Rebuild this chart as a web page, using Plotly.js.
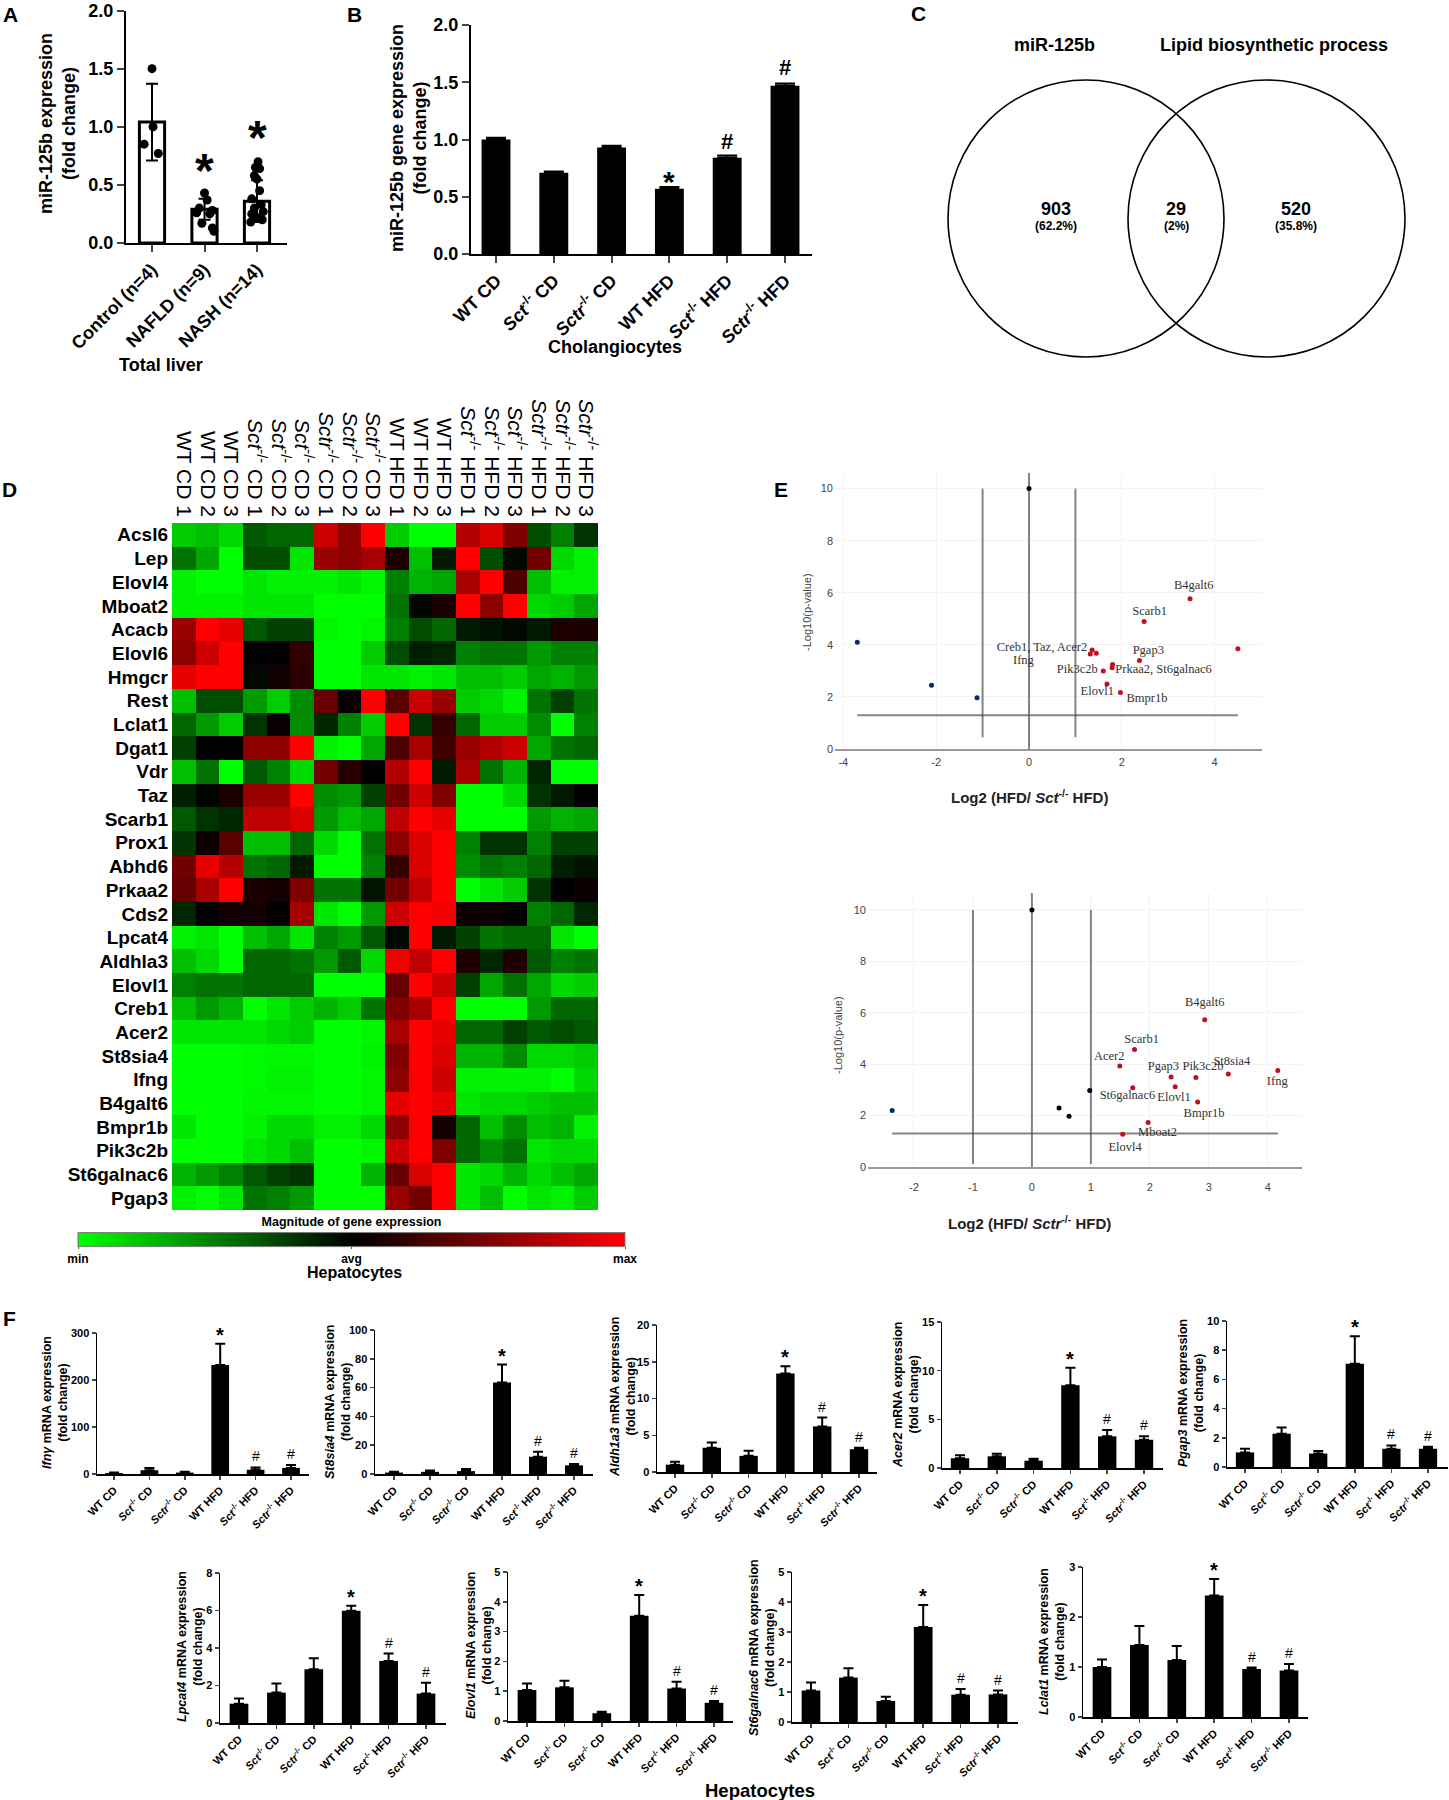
<!DOCTYPE html>
<html><head><meta charset="utf-8">
<script src="https://cdn.plot.ly/plotly-3.0.1.min.js"></script>
<style>html,body{margin:0;padding:0;background:#fff}</style></head>
<body><div id="chart" style="width:1449px;height:1800px"></div>
<script>
// ---------- DATA ----------
const liverGroups = ['Control (n=4)','NAFLD (n=9)','NASH (n=14)'];
const liverMeans = [1.04,0.29,0.36];
const liverErrors = [0.33,0.09,0.18];
const controlX = [0,0.02,-0.15,0.12];
const controlY = [1.5,1.0,0.85,0.77];
const naflX = [1.0,1.05,0.9,1.15,0.85,1.1,0.95,1.15,1.18];
const naflY = [0.43,0.37,0.30,0.28,0.26,0.25,0.17,0.13,0.10];
const nashX = [2.02,1.97,2.05,1.95,2.0,2.05,1.9,2.08,1.95,2.12,1.9,2.0,2.1,1.88];
const nashY = [0.70,0.65,0.64,0.58,0.55,0.45,0.38,0.33,0.30,0.27,0.25,0.22,0.20,0.18];

const groups = ['WT CD','<i>Sct</i><sup>-/-</sup> CD','<i>Sctr</i><sup>-/-</sup> CD','WT HFD','<i>Sct</i><sup>-/-</sup> HFD','<i>Sctr</i><sup>-/-</sup> HFD'];
const cholMeans = [1.0,0.71,0.93,0.57,0.84,1.47];
const cholErrors = [0.015,0.01,0.015,0.015,0.02,0.02];

const genes = ['Acsl6','Lep','Elovl4','Mboat2','Acacb','Elovl6','Hmgcr','Rest','Lclat1','Dgat1','Vdr','Taz','Scarb1','Prox1','Abhd6','Prkaa2','Cds2','Lpcat4','Aldhla3','Elovl1','Creb1','Acer2','St8sia4','Ifng','B4galt6','Bmpr1b','Pik3c2b','St6galnac6','Pgap3'];
const samples = ['WT CD 1','WT CD 2','WT CD 3','<i>Sct</i><sup>-/-</sup> CD 1','<i>Sct</i><sup>-/-</sup> CD 2','<i>Sct</i><sup>-/-</sup> CD 3','<i>Sctr</i><sup>-/-</sup> CD 1','<i>Sctr</i><sup>-/-</sup> CD 2','<i>Sctr</i><sup>-/-</sup> CD 3','WT HFD 1','WT HFD 2','WT HFD 3','<i>Sct</i><sup>-/-</sup> HFD 1','<i>Sct</i><sup>-/-</sup> HFD 2','<i>Sct</i><sup>-/-</sup> HFD 3','<i>Sctr</i><sup>-/-</sup> HFD 1','<i>Sctr</i><sup>-/-</sup> HFD 2','<i>Sctr</i><sup>-/-</sup> HFD 3'];
const expression = [
[-0.8,-0.75,-0.85,-0.35,-0.4,-0.4,0.8,0.55,1,-0.8,-1,-1,0.7,0.85,0.5,-0.3,-0.5,-0.2],
[-0.45,-0.65,-1,-0.3,-0.3,-0.9,0.6,0.55,0.65,0.12,-0.75,-0.1,1,-0.3,-0.03,0.45,-0.85,-0.95],
[-0.95,-1,-1,-0.9,-0.95,-0.95,-0.95,-0.9,-0.97,-0.5,-0.7,-0.65,0.65,1,0.3,-0.75,-0.95,-0.95],
[-0.95,-0.95,-0.95,-0.9,-0.9,-0.9,-1,-1,-1,-0.45,-0.02,0.1,1,0.55,1,-0.85,-0.8,-0.65],
[0.6,1,0.9,-0.35,-0.25,-0.25,-0.97,-1,-0.97,-0.5,-0.3,-0.4,-0.1,-0.07,-0.03,-0.1,0.12,0.1],
[0.55,0.8,1,0,0,0.2,-1,-1,-0.8,-0.3,-0.12,-0.15,-0.5,-0.45,-0.45,-0.6,-0.5,-0.5],
[0.9,1,1,-0.03,0.07,0.17,-1,-1,-0.9,-0.9,-0.95,-0.9,-0.75,-0.75,-0.8,-0.65,-0.7,-0.6],
[-0.75,-0.3,-0.3,-0.6,-0.8,-0.55,0.4,0.03,1,0.35,0.8,0.6,-0.8,-0.85,-0.95,-0.45,-0.25,-0.45],
[-0.4,-0.6,-0.8,-0.2,0.03,-0.55,-0.15,-0.5,-0.8,1,-0.2,0.2,-0.4,-0.8,-0.8,-0.55,-1,-0.5],
[-0.25,0,0,0.55,0.55,1,-0.95,-1,-0.65,0.3,0.65,0.25,0.6,0.7,0.8,-0.65,-0.45,-0.4],
[-0.75,-0.45,-1,-0.35,-0.5,-0.85,0.45,0.15,0,0.7,1,-0.1,0.65,-0.45,-0.7,-0.15,-1,-1],
[-0.12,-0.02,0.1,0.6,0.6,1,-0.55,-0.6,-0.25,0.45,0.8,0.5,-1,-1,-0.85,-0.2,-0.1,0],
[-0.35,-0.2,-0.15,0.75,0.75,0.85,-0.6,-0.75,-0.65,0.75,1,0.9,-1,-1,-1,-0.6,-0.7,-0.65],
[-0.2,0.05,0.35,-0.75,-0.75,-0.4,-0.85,-1,-0.45,0.55,0.85,1,-0.5,-0.2,-0.2,-0.5,-0.25,-0.25],
[0.45,0.9,0.7,-0.45,-0.4,-0.1,-1,-1,-0.5,0.2,0.85,1,-0.55,-0.45,-0.5,-0.4,-0.12,-0.07],
[0.4,0.65,1,0.1,0.08,0.5,-0.45,-0.45,-0.08,0.45,0.75,1,-1,-0.9,-0.8,-0.2,0,0.05],
[-0.15,0,0.08,0.08,0,0.65,-0.9,-1,-0.6,0.8,1,0.95,0.05,0.05,0,-0.5,-0.4,-0.15],
[-0.95,-0.9,-1,-0.75,-0.65,-0.9,-0.5,-0.6,-0.35,-0.03,1,-0.1,-0.25,-0.45,-0.4,-0.4,-0.9,-1],
[-0.75,-0.85,-1,-0.4,-0.4,-0.45,-0.6,-0.35,-0.85,0.95,0.75,1,0.12,-0.15,0.12,-0.35,-0.5,-0.45],
[-0.5,-0.45,-0.45,-0.4,-0.4,-0.4,-1,-1,-1,0.4,1,0.8,-0.25,-0.65,-0.45,-0.65,-0.85,-0.8],
[-0.75,-0.6,-0.7,-1,-0.9,-0.8,-0.7,-0.8,-0.45,0.5,0.65,1,-1,-1,-1,-0.6,-0.4,-0.4],
[-0.9,-0.9,-0.9,-0.9,-0.85,-0.8,-1,-1,-0.97,0.65,1,0.9,-0.4,-0.4,-0.25,-0.35,-0.3,-0.35],
[-1,-1,-1,-0.98,-0.97,-0.97,-1,-1,-0.95,0.5,1,0.85,-0.7,-0.7,-0.55,-0.85,-0.85,-0.8],
[-1,-1,-1,-0.98,-0.95,-0.95,-1,-1,-0.97,0.55,1,0.8,-0.95,-0.95,-0.95,-0.95,-1,-0.85],
[-1,-1,-1,-0.97,-0.97,-0.97,-1,-1,-0.97,0.9,1,0.9,-0.9,-0.85,-0.85,-0.8,-0.75,-0.75],
[-0.9,-1,-1,-0.95,-0.85,-0.85,-0.95,-0.95,-0.85,0.55,1,0.08,-0.4,-0.75,-0.55,-0.75,-0.7,-0.95],
[-1,-1,-1,-0.9,-0.85,-0.75,-1,-1,-0.97,0.8,1,0.5,-0.4,-0.55,-0.45,-0.9,-0.85,-0.85],
[-0.7,-0.6,-0.5,-0.35,-0.25,-0.2,-1,-1,-0.7,0.4,0.85,1,-0.9,-0.85,-0.7,-0.85,-0.75,-0.65],
[-0.95,-1,-0.9,-0.45,-0.5,-0.6,-1,-1,-1,0.6,0.45,1,-0.9,-0.75,-1,-0.9,-0.95,-0.8]
];
const scaleTickVals = [-1,0,1];
const scaleTickText = ['min','avg','max'];

// Volcano, Sct-/-
const sctDownX = [-3.7,-2.1,-1.12];
const sctDownY = [4.1,2.45,1.97];
const sctNsX = [0];
const sctNsY = [10];
const sctUpX = [1.32,1.36,1.45,1.6,1.68,1.8,1.79,1.97,2.38,2.48,3.47,4.5];
const sctUpY = [3.65,3.8,3.68,3.0,2.5,3.25,3.12,2.17,3.4,4.9,5.77,3.85];
const sctLabels = ['B4galt6','Scarb1','Creb1, Taz, Acer2','Ifng','Pgap3','Pik3c2b','Prkaa2, St6galnac6','Elovl1','Bmpr1b'];
const sctLabelX = [3.55,2.6,0.28,-0.12,2.57,1.04,2.9,1.47,2.54];
const sctLabelY = [6.25,5.25,3.88,3.37,3.78,3.05,3.05,2.19,1.92];
// Volcano, Sctr-/-
const sctrDownX = [-2.37];
const sctrDownY = [2.2];
const sctrNsX = [0,0.46,0.63,0.98];
const sctrNsY = [10,2.3,1.97,2.98];
const sctrUpX = [1.49,1.74,1.71,2.36,2.43,2.78,3.33,4.17,2.93,2.81,1.97,1.54];
const sctrUpY = [3.93,4.57,3.08,3.5,3.12,3.48,3.62,3.75,5.73,2.53,1.73,1.27];
const sctrLabels = ['B4galt6','Scarb1','Acer2','Pgap3','Pik3c2b','St8sia4','Ifng','St6galnac6','Elovl1','Bmpr1b','Mboat2','Elovl4'];
const sctrLabelX = [2.93,1.86,1.31,2.23,2.9,3.39,4.16,1.62,2.41,2.92,2.13,1.58];
const sctrLabelY = [6.4,4.96,4.3,3.9,3.88,4.1,3.3,2.75,2.67,2.08,1.33,0.73];

// Venn
const vennTitles = ['miR-125b','Lipid biosynthetic process'];
const vennCounts = ['903','29','520'];
const vennShares = ['(62.2%)','(2%)','(35.8%)'];

// qPCR bars
const ifngMean = [2,8,3,232,9,13],        ifngErr = [1,5,2,45,5,6];
const st8Mean = [1,1.5,2,63.5,12,6],      st8Err = [0.5,1,1.5,12.5,3.5,1];
const aldhMean = [1,3.3,2.2,13.4,6.2,3.1],aldhErr = [0.4,0.7,0.7,1.0,1.2,0.2];
const acerMean = [1,1.2,0.75,8.5,3.25,2.9],acerErr = [0.3,0.27,0.2,1.8,0.65,0.35];
const pgapMean = [1,2.28,0.92,7.08,1.25,1.25],pgapErr = [0.25,0.42,0.18,1.87,0.23,0.13];
const lpcatMean = [1.03,1.62,2.87,5.98,3.3,1.57],lpcatErr = [0.27,0.48,0.58,0.27,0.4,0.57];
const elovlMean = [1.04,1.13,0.26,3.53,1.09,0.61],elovlErr = [0.22,0.22,0.05,0.7,0.23,0.06];
const st6Mean = [1.05,1.48,0.7,3.17,0.91,0.92],st6Err = [0.27,0.31,0.14,0.73,0.19,0.13];
const lclatMean = [1.0,1.44,1.14,2.43,0.96,0.93],lclatErr = [0.15,0.38,0.28,0.33,0.03,0.13];

// ---------- LAYOUT HELPERS ----------
const W = 1449, H = 1800, SANS = 'Liberation Sans, Arial, sans-serif', SERIF = 'Liberation Serif, Times New Roman, serif';
const px = x => x / W, py = y => 1 - y / H;
const traces = [], shapes = [], annotations = [];
const layout = {width:W,height:H,margin:{l:0,r:0,t:0,b:0,autoexpand:false},paper_bgcolor:'#fff',plot_bgcolor:'rgba(0,0,0,0)',showlegend:false,hovermode:false,shapes,annotations};
let axisCount = 0;
function newAxes(L,R,T,B,xOpts,yOpts){
  axisCount++;
  const s = axisCount === 1 ? '' : axisCount;
  layout['xaxis'+s] = Object.assign({domain:[px(L),px(R)],anchor:'y'+s,zeroline:false,showgrid:false},xOpts);
  layout['yaxis'+s] = Object.assign({domain:[py(B),py(T)],anchor:'x'+s,zeroline:false,showgrid:false},yOpts);
  return {x:'x'+s,y:'y'+s};
}
function note(text,x,y,size,opts){
  annotations.push(Object.assign({text,x:px(x),y:py(y),xref:'paper',yref:'paper',xanchor:'center',yanchor:'middle',showarrow:false,
    font:{family:SANS,size,color:'#000'}},opts||{}));
}
const B = t => '<b>'+t+'</b>';
function mark(ax,x,y,text,size,shift,bold){
  annotations.push({text:bold?B(text):text,x,y,xref:ax.x,yref:ax.y,xanchor:'center',yanchor:'middle',yshift:shift,showarrow:false,font:{family:SANS,size,color:'#000'}});
}
function barPanel(g){
  const s = (g.c5-g.c0)/(g.means.length-1);
  const ax = newAxes(g.L,g.R,g.T,g.B,{
    range:[(g.L-g.c0)/s,(g.R-g.c0)/s],tickvals:g.means.map((_,i)=>i),ticktext:g.labels.map(B),tickangle:-45,
    ticks:'outside',ticklen:g.tl,tickwidth:g.lw,showline:true,linewidth:g.lw,linecolor:'#000',tickfont:{family:SANS,size:g.xf,color:'#000'}
  },{
    range:[0,g.max],dtick:g.dtick,tickformat:g.fmt,ticks:'outside',ticklen:g.tl,tickwidth:g.lw,showline:true,linewidth:g.lw,linecolor:'#000',
    tickfont:{family:SANS,size:g.yf,color:'#000',weight:'bold'}
  });
  traces.push({type:'bar',x:g.means.map((_,i)=>i),y:g.means,width:g.bw||0.5,xaxis:ax.x,yaxis:ax.y,
    marker:{color:g.fill||'#000',line:{color:'#000',width:g.ol||0}},
    error_y:{type:'data',symmetric:g.sym||false,array:g.errs,arrayminus:g.sym?g.errs:g.errs.map(()=>0),color:'#000',thickness:g.et||2,width:g.ew||5}});
  return ax;
}

// ---------- PANEL A ----------
const axA = barPanel({L:126,R:287,T:10.5,B:243,c0:152,c5:257,means:liverMeans,errs:liverErrors,labels:liverGroups,max:2,dtick:0.5,fmt:'.1f',tl:7,lw:2,xf:18,yf:18,fill:'#fff',ol:3,bw:0.48,sym:true,ew:6});
[[controlX,controlY],[naflX,naflY],[nashX,nashY]].forEach(p=>traces.push({type:'scatter',mode:'markers',x:p[0],y:p[1],xaxis:axA.x,yaxis:axA.y,marker:{color:'#000',size:9}}));
mark(axA,1,0.66,'*',48,-4,true);
mark(axA,2,0.94,'*',48,-4,true);
note(B('miR-125b expression<br>(fold change)'),57,124,18,{textangle:-90});
note(B('Total liver'),161,365,18);

// ---------- PANEL B ----------
const axB = barPanel({L:471,R:812,T:25,B:254,c0:496,c5:785,means:cholMeans,errs:cholErrors,labels:groups,max:2,dtick:0.5,fmt:'.1f',tl:7,lw:2,xf:18,yf:18,ew:10});
mark(axB,3,0.585,'*',30,6,true);
mark(axB,4,0.86,'#',22,14,true);
mark(axB,5,1.49,'#',22,16,true);
note(B('miR-125b gene expression<br>(fold change)'),408,138,18,{textangle:-90});
note(B('Cholangiocytes'),615,347,18);

// ---------- PANEL C ----------
[[948,1224],[1128,1405]].forEach(c=>shapes.push({type:'circle',xref:'paper',yref:'paper',x0:px(c[0]),x1:px(c[1]),y0:py(80),y1:py(357),line:{color:'#000',width:1.6}}));
note(B(vennTitles[0]),1054,45,18);
note(B(vennTitles[1]),1274,45,18);
[1056,1176,1296].forEach((x,i)=>{note(B(vennCounts[i]),x,209,18);note(B(vennShares[i]),x,226,12);});

// ---------- PANEL D ----------
const axD = newAxes(172,598,523,1210,
  {type:'category',side:'top',tickangle:90,ticks:'',tickmode:'array',tickvals:samples,ticktext:samples,tickfont:{family:SANS,size:21,color:'#000'},ticklabelstandoff:2},
  {type:'category',autorange:'reversed',ticks:'',tickmode:'array',tickvals:genes,ticktext:genes,tickfont:{family:SANS,size:19,color:'#000',weight:'bold'},ticklabelstandoff:3});
traces.push({type:'heatmap',x:samples,y:genes,z:expression,zmin:-1,zmax:1,xaxis:axD.x,yaxis:axD.y,
  colorscale:[[0,'#00ff00'],[0.5,'#000000'],[1,'#ff0000']],
  colorbar:{orientation:'h',x:px(78),xanchor:'left',y:py(1266.5),yanchor:'bottom',len:547,lenmode:'pixels',thickness:14,thicknessmode:'pixels',xpad:0,ypad:0,
    outlinecolor:'#777',outlinewidth:1,ticks:'outside',ticklen:2,tickcolor:'#555',tickvals:scaleTickVals,ticktext:scaleTickText.map(B),
    tickfont:{family:SANS,size:12,color:'#000'},title:{text:B('Magnitude of gene expression'),side:'top',font:{family:SANS,size:12.5,color:'#000'}}}});
note(B('Hepatocytes'),354,1272,16);

// ---------- PANEL E ----------
function volcano(o){
  const base = {showgrid:true,gridcolor:'#f2f2f2',gridwidth:1,ticks:'',tickfont:{family:SANS,size:11,color:'#444'}};
  const ax = newAxes(o.L,o.R,o.T,o.B,Object.assign({},base,{range:o.xr,tickvals:o.xt,ticktext:o.xt.map(String),showline:true,linecolor:'#999',linewidth:1.5,ticklabelstandoff:o.so}),
    Object.assign({},base,{range:[0,o.yt],tickvals:[0,2,4,6,8,10],ticklabelstandoff:1}));
  const lineColor = 'rgba(80,80,80,0.7)';
  o.vlines.forEach(v=>traces.push({type:'scatter',mode:'lines',x:[v[0],v[0]],y:[v[1],v[2]],xaxis:ax.x,yaxis:ax.y,line:{color:lineColor,width:2}}));
  traces.push({type:'scatter',mode:'lines',x:o.hx,y:[1.3,1.3],xaxis:ax.x,yaxis:ax.y,line:{color:lineColor,width:2}});
  [[o.down,'#0b2a6f'],[o.ns,'#000'],[o.up,'#c00f1f']].forEach(g=>traces.push({type:'scatter',mode:'markers',x:g[0][0],y:g[0][1],xaxis:ax.x,yaxis:ax.y,marker:{color:g[1],size:o.ms}}));
  traces.push({type:'scatter',mode:'text',x:o.lx,y:o.ly,text:o.labels,textposition:'middle center',xaxis:ax.x,yaxis:ax.y,textfont:{family:SERIF,size:12.5,color:'#333'}});
}
volcano({L:835,R:1262,T:473,B:749,xr:[-4.18,5.02],yt:10.6,xt:[-4,-2,0,2,4],so:2,ms:5,
  vlines:[[-1,0.45,10],[0,0,10.6],[1,0.45,10]],hx:[-3.7,4.5],down:[sctDownX,sctDownY],ns:[sctNsX,sctNsY],up:[sctUpX,sctUpY],lx:sctLabelX,ly:sctLabelY,labels:sctLabels});
note('-Log10(p-value)',807,612,11,{textangle:-90,font:{family:SANS,size:11,color:'#444'}});
note(B('Log2 (HFD/ <i>Sct</i><sup>-/-</sup> HFD)'),1029,797,15,{font:{family:SANS,size:15,color:'#222'}});
volcano({L:868,R:1302,T:893,B:1167,xr:[-2.78,4.58],yt:10.66,xt:[-2,-1,0,1,2,3,4],so:9,ms:5,
  vlines:[[-1,0.12,10],[0,0,10.66],[1,0.12,10]],hx:[-2.37,4.17],down:[sctrDownX,sctrDownY],ns:[sctrNsX,sctrNsY],up:[sctrUpX,sctrUpY],lx:sctrLabelX,ly:sctrLabelY,labels:sctrLabels});
note('-Log10(p-value)',838,1035,11,{textangle:-90,font:{family:SANS,size:11,color:'#444'}});
note(B('Log2 (HFD/ <i>Sctr</i><sup>-/-</sup> HFD)'),1029,1222,15,{font:{family:SANS,size:15,color:'#222'}});

// ---------- PANEL F ----------
const fPanels = [
 {gene:'Ifn&#947;',tx:55,ty:1403,L:97,R:309,T:1333,B:1474,c0:114,c5:291,means:ifngMean,errs:ifngErr,max:300,dtick:100},
 {gene:'St8sia4',tx:338,ty:1402,L:375,R:593,T:1330,B:1474,c0:394,c5:574,means:st8Mean,errs:st8Err,max:100,dtick:20},
 {gene:'Aldh1a3',tx:623,ty:1397,L:657,R:877,T:1325,B:1472,c0:675,c5:859,means:aldhMean,errs:aldhErr,max:20,dtick:5},
 {gene:'Acer2',tx:906,ty:1395,L:942,R:1163,T:1322,B:1468,c0:960,c5:1144,means:acerMean,errs:acerErr,max:15,dtick:5},
 {gene:'Pgap3',tx:1191,ty:1393,L:1227,R:1448,T:1321,B:1467,c0:1245,c5:1428,means:pgapMean,errs:pgapErr,max:10,dtick:2},
 {gene:'Lpcat4',tx:190,ty:1647,L:220,R:446,T:1573,B:1723,c0:239,c5:426,means:lpcatMean,errs:lpcatErr,max:8,dtick:2},
 {gene:'Elovl1',tx:479,ty:1645,L:508,R:733,T:1572,B:1721,c0:527,c5:714,means:elovlMean,errs:elovlErr,max:5,dtick:1},
 {gene:'St6galnac6',tx:762,ty:1647,L:792,R:1018,T:1572,B:1722,c0:811,c5:998,means:st6Mean,errs:st6Err,max:5,dtick:1},
 {gene:'Lclat1',tx:1052,ty:1642,L:1083,R:1308,T:1567,B:1717,c0:1102,c5:1289,means:lclatMean,errs:lclatErr,max:3,dtick:1}
];
fPanels.forEach(p=>{
  const ax = barPanel(Object.assign({labels:groups,tl:4,lw:1.5,xf:11,yf:11,ew:5,et:2},p));
  const top = i => p.means[i]+p.errs[i];
  mark(ax,3,top(3),'*',20,9,true);
  mark(ax,4,top(4),'#',14,11,false);
  mark(ax,5,top(5),'#',14,11,false);
  note(B('<i>'+p.gene+'</i> mRNA expression<br>(fold change)'),p.tx,p.ty,12.5,{textangle:-90});
});
note(B('Hepatocytes'),760,1790,18.5);

// ---------- PANEL LETTERS ----------
[['A',10,15],['B',354,15],['C',918,14],['D',9,490],['E',781,490],['F',9,1318]].forEach(l=>note(B(l[0]),l[1],l[2],21));

Plotly.newPlot('chart',traces,layout,{displayModeBar:false,staticPlot:true});
</script></body></html>
